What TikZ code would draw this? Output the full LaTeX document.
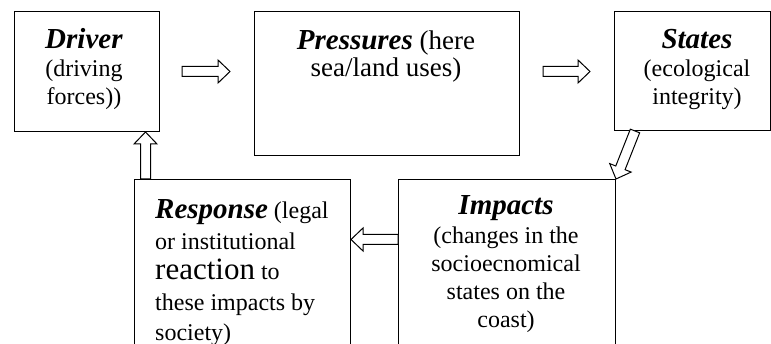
\documentclass[tikz,border=0pt]{standalone}
\usepackage{fontspec}
\setmainfont{Liberation Serif}
\usetikzlibrary{calc}

\tikzset{
  box/.style={draw, line width=1pt, inner sep=0pt, anchor=north west},
  boxtext/.style={font=\fontsize{24}{28.3}\selectfont, inner sep=0pt, align=center, anchor=base},
  blockarrow/.style={draw, line width=1pt, fill=white, line join=miter,
    to path={
      ($(\tikztostart)!5pt!90:(\tikztotarget)$)
      -- ($(\tikztotarget)!12pt!(\tikztostart)!5pt!90:(\tikztotarget)$)
      -- ($(\tikztotarget)!12pt!(\tikztostart)!11.5pt!90:(\tikztotarget)$)
      -- (\tikztotarget)
      -- ($(\tikztotarget)!12pt!(\tikztostart)!11.5pt!-90:(\tikztotarget)$)
      -- ($(\tikztotarget)!12pt!(\tikztostart)!5pt!-90:(\tikztotarget)$)
      -- ($(\tikztostart)!5pt!-90:(\tikztotarget)$) -- cycle}}
}
\newcommand{\head}[1]{{\fontsize{29}{28.3}\selectfont\textbf{\textit{#1}}}}

\begin{document}
\begin{tikzpicture}[x=1pt,y=-1pt]
\useasboundingbox (0,0) rectangle (771,344);
\clip (0,0) rectangle (771,344);
% the five boxes
\node[box, minimum width=145, minimum height=120] (driver) at (14,11) {};
\node[box, minimum width=265, minimum height=144] (pressures) at (254,11) {};
\node[box, minimum width=156, minimum height=119] (states) at (614,11) {};
\node[box, minimum width=216, minimum height=181] (response) at (134,179) {};
\node[box, minimum width=217, minimum height=181] (impacts) at (398,179) {};
% texts (anchored at the baseline of their last line)
\node[boxtext] (drivertext) at (84,105) {\head{Driver}\\(driving\\forces))};
\node[boxtext, font=\fontsize{27}{27}\selectfont] (pressurestext) at (386,77) {\head{Pressures} (here\\sea/land uses)};
\node[boxtext] (statestext) at (697,105) {\head{States}\\(ecological\\integrity)};
\node[boxtext] (impactstext) at (506,328) {\head{Impacts}\\(changes in the\\socioecnomical\\states on the\\coast)};
\node[boxtext, font=\fontsize{24}{30.5}\selectfont, align=left, anchor=base west] (responsetext) at (155,341)
  {\head{Response} (legal\\or institutional\\{\fontsize{31}{30.5}\selectfont reaction} to\\these impacts by\\society)};
% arrows
\draw[blockarrow] ($(driver.east)+(22,0)$) to ($(driver.east -| pressures.west)+(-24,0)$);
\draw[blockarrow] ($(pressures.east |- driver.east)+(23,0)$) to ($(states.west |- driver.east)+(-24,0)$);
\draw[blockarrow] ($(states.south west)+(21,0)$) to (impacts.north east);
\draw[blockarrow] ($(impacts.north west)+(0,60.5)$) to ($(response.north east)+(0,60.5)$);
\draw[blockarrow] ($(response.north west)+(11.5,0)$) to ($(driver.south west)+(131.5,0)$);
\end{tikzpicture}
\end{document}
